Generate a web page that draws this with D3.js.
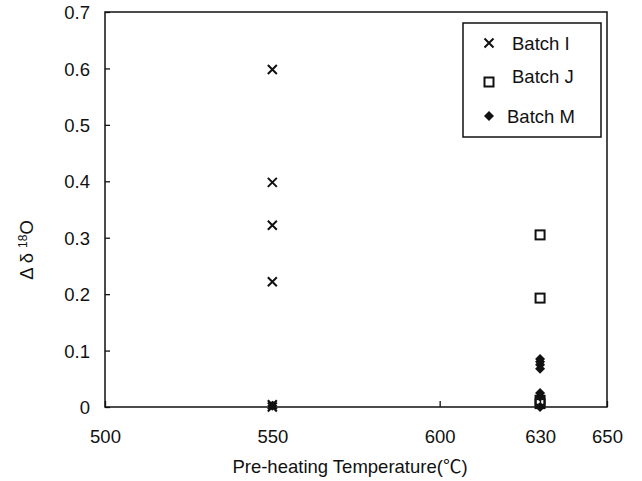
<!DOCTYPE html>
<html>
<head>
<meta charset="utf-8">
<script src="https://cdn.jsdelivr.net/npm/d3@7"></script>
<style>
  body { margin: 0; background: #fff; }
  text { font-family: "Liberation Sans", Arial, sans-serif; fill: #111; }
</style>
</head>
<body>
<div id="chart"></div>
<script>
(function() {

    var w = 642;
    var h = 481;

    // data
    var batchNames = ["Batch I", "Batch J", "Batch M"];
    var batchITemp = [550, 550, 550, 550, 550, 550];
    var batchIVals = [0.598, 0.398, 0.322, 0.222, 0.004, 0.0];
    var batchJTemp = [630, 630, 630, 630];
    var batchJVals = [0.305, 0.193, 0.012, 0.006];
    var batchMTemp = [630, 630, 630, 630, 630, 630, 630, 550];
    var batchMVals = [0.085, 0.08, 0.075, 0.068, 0.025, 0.018, 0.0, 0.002];

    var xTicks = [500, 550, 600, 630, 650];
    var yTicks = [0, 0.1, 0.2, 0.3, 0.4, 0.5, 0.6, 0.7];

    var left = 105, right = 607, top = 12, bottom = 407;
    var fs = "18.5px";

    var svg = d3.select("#chart")
        .append("svg")
        .attr("width", w)
        .attr("height", h);

    var x = d3.scaleLinear().domain([500, 650]).range([left, right]);
    var y = d3.scaleLinear().domain([0, 0.7]).range([bottom, top]);

    // axes with inward ticks
    var xAxis = d3.axisBottom(x).tickValues(xTicks).tickSizeInner(-6).tickSizeOuter(0).tickPadding(23);
    var yAxis = d3.axisLeft(y).tickValues(yTicks).tickSizeInner(-5).tickSizeOuter(0).tickPadding(15)
        .tickFormat(function(d) { return d === 0 ? "0" : d3.format(".1f")(d); });

    var gx = svg.append("g").attr("transform", "translate(0," + bottom + ")").call(xAxis);
    var gy = svg.append("g").attr("transform", "translate(" + left + ",0)").call(yAxis);

    [gx, gy].forEach(function(g) {
        g.select(".domain").remove();
        g.selectAll("line").attr("stroke", "#111").attr("stroke-width", 1.3);
        g.selectAll("text").style("font-size", fs).attr("fill", "#111")
            .style("font-family", "'Liberation Sans', Arial, sans-serif");
    });
    gy.selectAll("text").attr("dy", "0.36em");

    // frame
    svg.append("rect")
        .attr("x", left).attr("y", top)
        .attr("width", right - left).attr("height", bottom - top)
        .attr("fill", "none").attr("stroke", "#111").attr("stroke-width", 1.5);

    // axis titles
    var xl = svg.append("text")
        .attr("x", 350).attr("y", 473)
        .attr("text-anchor", "middle")
        .style("font-size", fs);
    xl.append("tspan").text("Pre-heating Temperature(");
    xl.append("tspan").style("font-family", "'Noto Sans CJK SC', sans-serif").text("\u2103");
    xl.append("tspan").text(")");

    var yl = svg.append("text")
        .attr("transform", "translate(33,250) rotate(-90)")
        .attr("text-anchor", "middle")
        .style("font-size", fs);
    yl.append("tspan").text("\u0394 \u03b4 ");
    yl.append("tspan").attr("dy", -6).style("font-size", "12px").text("18");
    yl.append("tspan").attr("dy", 6).text("O");

    // marker drawers
    function drawCross(g, cx, cy) {
        var s = 4.5;
        g.append("path")
            .attr("d", "M" + (cx - s) + "," + (cy - s) + "L" + (cx + s) + "," + (cy + s) +
                       "M" + (cx - s) + "," + (cy + s) + "L" + (cx + s) + "," + (cy - s))
            .attr("stroke", "#111").attr("stroke-width", 2).attr("fill", "none");
    }
    function drawSquare(g, cx, cy) {
        g.append("rect")
            .attr("x", cx - 4.5).attr("y", cy - 4.5)
            .attr("width", 9).attr("height", 9)
            .attr("fill", "none").attr("stroke", "#111").attr("stroke-width", 2);
    }
    function drawDiamond(g, cx, cy) {
        var s = 5;
        g.append("path")
            .attr("d", "M" + cx + "," + (cy - s) + "L" + (cx + s) + "," + cy +
                       "L" + cx + "," + (cy + s) + "L" + (cx - s) + "," + cy + "Z")
            .attr("fill", "#111");
    }

    var pts = svg.append("g");
    batchIVals.forEach(function(v, i) { drawCross(pts, x(batchITemp[i]), y(v)); });
    batchMVals.forEach(function(v, i) { drawDiamond(pts, x(batchMTemp[i]), y(v)); });
    batchJVals.forEach(function(v, i) { drawSquare(pts, x(batchJTemp[i]), y(v)); });

    // legend
    var lg = svg.append("g");
    lg.append("rect")
        .attr("x", 463).attr("y", 23)
        .attr("width", 138).attr("height", 114)
        .attr("fill", "#fff").attr("stroke", "#111").attr("stroke-width", 1.5);

    var legendY = [43, 80, 116];
    var legendTextX = [512, 512, 507];
    var drawers = [drawCross, drawSquare, drawDiamond];
    batchNames.forEach(function(name, i) {
        var my = i === 1 ? legendY[i] + 2 : legendY[i];
        drawers[i](lg, 489, my);
        lg.append("text")
            .attr("x", legendTextX[i]).attr("y", legendY[i] + (i === 1 ? -4 : 0))
            .attr("dy", "0.36em")
            .style("font-size", fs)
            .text(name);
    });

})();
</script>
</body>
</html>
